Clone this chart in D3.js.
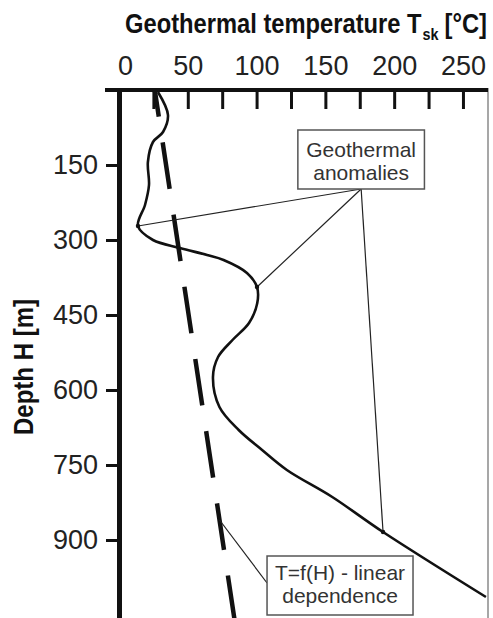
<!DOCTYPE html>
<html>
<head>
<meta charset="utf-8">
<script src="https://cdn.jsdelivr.net/npm/d3@7"></script>
<style>
  body { margin: 0; background: #fff; }
  svg { display: block; }
</style>
</head>
<body>
<div id="chart"></div>
<script>
// temperature profile (depth in m, temperature in °C)
var profileDepth = [4, 50, 84, 104, 144, 190, 230, 272, 300, 316, 330, 340, 366, 394, 426, 466, 500, 534, 574, 634, 680, 720, 760, 814, 884, 1014];
var profileTemp = [28.3, 35.6, 32, 24.7, 21, 21.8, 18.9, 13.8, 24.7, 44.3, 64, 76, 93, 100.3, 100.5, 94.5, 82.5, 72, 68.3, 73, 87, 104, 122, 155, 191.9, 266.7];

// linear trend T=f(H)
var linearDepth = [0, 1060];
var linearTemp = [26, 84];

// marked anomalies
var anomalyDepth = [272, 394, 884];
var anomalyTemp = [13.8, 100.3, 191.9];

// axis ticks
var tempTicks = [0, 25, 50, 75, 100, 125, 150, 175, 200, 225, 250];
var tempLabels = ["0", "", "50", "", "100", "", "150", "", "200", "", "250"];
var depthTicks = [150, 300, 450, 600, 750, 900];

var width = 493;
var height = 618;

var svg = d3.select("#chart").append("svg")
  .attr("width", width)
  .attr("height", height);

var x = d3.scaleLinear().domain([0, 268.2]).range([119, 488]);
var y = d3.scaleLinear().domain([0, 1060]).range([90, 620]);

var font = "'Liberation Sans', Arial, sans-serif";
var narrow = "'Liberation Sans Narrow', 'Arial Narrow', 'Liberation Sans', sans-serif";

// right frame line
svg.append("line")
  .attr("x1", 488).attr("x2", 488)
  .attr("y1", 88).attr("y2", height)
  .attr("stroke", "#8a8a8a")
  .attr("stroke-width", 1.5);

// top axis, ticks pointing into the plot
var xAxis = d3.axisTop(x)
  .tickValues(tempTicks)
  .tickFormat(function (d, i) { return tempLabels[i]; })
  .tickSizeInner(-19)
  .tickSizeOuter(0)
  .tickPadding(15);

var gx = svg.append("g")
  .attr("transform", "translate(0," + y(0) + ")")
  .call(xAxis);
gx.select(".domain").attr("stroke", "#111").attr("stroke-width", 4)
  .attr("d", "M" + (x(0) - 14) + ",0H" + x.range()[1]);
gx.selectAll(".tick line").attr("stroke", "#111").attr("stroke-width", 3);
gx.selectAll(".tick text")
  .attr("fill", "#222")
  .attr("dx", function (d) { return d === 0 ? 6 : 0; })
  .style("font-family", font)
  .style("font-size", "27px");

// left axis
var yAxis = d3.axisLeft(y)
  .tickValues(depthTicks)
  .tickSizeInner(13)
  .tickSizeOuter(0)
  .tickPadding(8);

var gy = svg.append("g")
  .attr("transform", "translate(" + x(0) + ",0)")
  .call(yAxis);
gy.select(".domain").attr("stroke", "#111").attr("stroke-width", 5);
gy.selectAll(".tick line").attr("stroke", "#111").attr("stroke-width", 3);
gy.selectAll(".tick text")
  .attr("fill", "#222")
  .style("font-family", font)
  .style("font-size", "27px");

// axis titles
var tg = svg.append("g");
var t1 = tg.append("text")
  .attr("x", 0).attr("y", 33)
  .attr("fill", "#111")
  .style("font-family", narrow)
  .style("font-weight", "bold")
  .style("font-size", "28px")
  .text("Geothermal temperature T");
var w1 = t1.node().getComputedTextLength();
var t2 = tg.append("text")
  .attr("x", w1 + 1).attr("y", 40)
  .attr("fill", "#111")
  .style("font-family", narrow)
  .style("font-weight", "bold")
  .style("font-size", "17px")
  .text("sk");
var w2 = t2.node().getComputedTextLength();
var t3 = tg.append("text")
  .attr("x", w1 + w2 + 8).attr("y", 33)
  .attr("fill", "#111")
  .style("font-family", narrow)
  .style("font-weight", "bold")
  .style("font-size", "28px")
  .text("[°C]");
var wAll = w1 + w2 + 8 + t3.node().getComputedTextLength();
tg.attr("transform", "translate(125,0) scale(" + (362 / wAll) + ",1)");

svg.append("text")
  .attr("transform", "translate(33," + 367 + ") rotate(-90)")
  .attr("text-anchor", "middle")
  .attr("fill", "#111")
  .attr("textLength", 136)
  .attr("lengthAdjust", "spacingAndGlyphs")
  .style("font-family", narrow)
  .style("font-weight", "bold")
  .style("font-size", "27px")
  .text("Depth H [m]");

// linear dependence (dashed)
var linearData = linearDepth.map(function (h, i) { return { H: h, T: linearTemp[i] }; });
var line = d3.line()
  .x(function (d) { return x(d.T); })
  .y(function (d) { return y(d.H); });

svg.append("path")
  .datum(linearData)
  .attr("fill", "none")
  .attr("stroke", "#111")
  .attr("stroke-width", 4.5)
  .attr("stroke-dasharray", "47 26")
  .attr("stroke-dashoffset", 20)
  .attr("d", line);

// temperature profile
var profileData = profileDepth.map(function (h, i) { return { H: h, T: profileTemp[i] }; });
var curve = d3.line()
  .x(function (d) { return x(d.T); })
  .y(function (d) { return y(d.H); })
  .curve(d3.curveCatmullRom.alpha(0.5));

svg.append("path")
  .datum(profileData)
  .attr("fill", "none")
  .attr("stroke", "#111")
  .attr("stroke-width", 2.6)
  .attr("d", curve);

// annotation: anomalies
var box1 = { t0: 130, t1: 222, h0: 80, h1: 198 };
var hub = { T: (box1.t0 + box1.t1) / 2, H: box1.h1 };

svg.selectAll(".leader")
  .data(anomalyDepth)
  .enter().append("line")
  .attr("class", "leader")
  .attr("x1", x(hub.T)).attr("y1", y(hub.H))
  .attr("x2", function (d, i) { return x(anomalyTemp[i]); })
  .attr("y2", function (d) { return y(d); })
  .attr("stroke", "#222")
  .attr("stroke-width", 1.2);

svg.selectAll(".dot")
  .data(anomalyDepth)
  .enter().append("circle")
  .attr("cx", function (d, i) { return x(anomalyTemp[i]); })
  .attr("cy", function (d) { return y(d); })
  .attr("r", 2.2)
  .attr("fill", "#111");

function drawBox(b, lines, base1, base2) {
  svg.append("rect")
    .attr("x", x(b.t0)).attr("y", y(b.h0))
    .attr("width", x(b.t1) - x(b.t0))
    .attr("height", y(b.h1) - y(b.h0))
    .attr("fill", "#fff")
    .attr("stroke", "#555")
    .attr("stroke-width", 1.5);
  var cx = (x(b.t0) + x(b.t1)) / 2;
  svg.append("text")
    .attr("x", cx).attr("y", base1)
    .attr("text-anchor", "middle")
    .attr("fill", "#333")
    .style("font-family", font)
    .style("font-size", "21px")
    .text(lines[0]);
  svg.append("text")
    .attr("x", cx).attr("y", base2)
    .attr("text-anchor", "middle")
    .attr("fill", "#333")
    .style("font-family", font)
    .style("font-size", "21px")
    .text(lines[1]);
}

drawBox(box1, ["Geothermal", "anomalies"], 157, 180);

// annotation: linear dependence
var box2 = { t0: 107.6, t1: 213.7, h0: 932, h1: 1050 };
var linH = 860;
var linT = linearTemp[0] + (linearTemp[1] - linearTemp[0]) * (linH - linearDepth[0]) / (linearDepth[1] - linearDepth[0]);

svg.append("line")
  .attr("x1", x(linT)).attr("y1", y(linH))
  .attr("x2", x(box2.t0)).attr("y2", y(986))
  .attr("stroke", "#222")
  .attr("stroke-width", 1.2);

drawBox(box2, ["T=f(H) - linear", "dependence"], 580, 603);
</script>
</body>
</html>
